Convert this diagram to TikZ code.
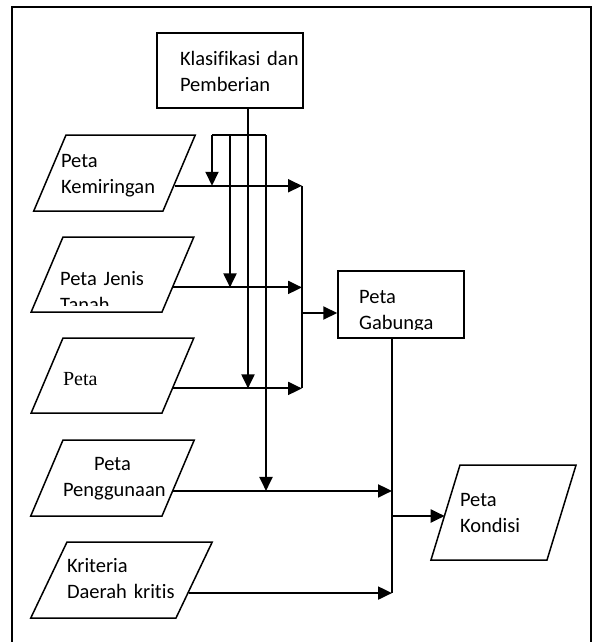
\documentclass[tikz,border=0pt]{standalone}
\usepackage{fontspec}
\setmainfont{Carlito}[Ligatures=NoCommon]
\newfontfamily\serifpeta{Liberation Serif}
\usetikzlibrary{arrows.meta,shapes.geometric}

\begin{document}
\begin{tikzpicture}[x=1pt,y=-1pt,>={Triangle[length=14pt,width=13pt]},
                    kotak/.style={rectangle,draw,line width=1.5pt,inner sep=0pt,align=left,font=\fontsize{20.5}{26}\selectfont},
                    peta/.style={trapezium,draw,line width=1.5pt,inner sep=0pt,align=left,
                                 trapezium left angle=67,trapezium right angle=113,text width=99pt,
                                 font=\fontsize{20.5}{26}\selectfont},
                    teks/.style={inner sep=0pt,align=left,font=\fontsize{20.5}{26}\selectfont},
                    panah/.style={->,line width=2pt},
                    garis/.style={-,line width=2pt}]

  \useasboundingbox (0,0) rectangle (597,642);
  \draw[line width=1.3pt] (12,7) rectangle (591,660);

  \node[kotak,minimum width=146pt,text width=100pt,text height=33pt,text depth=42pt] (1) at (230,70.5) {\mbox{Klasifikasi dan}\\Pemberian};
  \node[peta,text width=97pt,text height=32pt,text depth=44pt] (2) at (114.5,173) {\hspace*{-5pt}Peta\\\hspace*{-5pt}Kemiringan};
  \node[peta,text height=48pt,text depth=27pt] (3) at (112.5,274.5) {};
  \node[peta,text height=47pt,text depth=28pt,font=\serifpeta\fontsize{20}{24}\selectfont] (4) at (112.5,375.5) {Peta};
  \node[peta,align=center,text height=30pt,text depth=46pt] (5) at (112.5,478) {Peta\\Penggunaan};
  \node[peta,trapezium left angle=64.5,trapezium right angle=115.5,text width=109pt,text height=30pt,text depth=46pt]
        (6) at (121.5,580) {Kriteria\\\mbox{Daerah kritis}};
  \node[kotak,minimum width=126pt,minimum height=67pt] (7) at (401,304.5) {};
  \node[peta,trapezium left angle=73,trapezium right angle=107,text width=87pt,text height=41pt,text depth=54pt]
        (8) at (503.5,512.5) {Peta\\Kondisi};

  % teks yang terpotong
  \begin{scope}
    \clip (30,230) rectangle (200,305);
    \node[teks,text width=105pt,anchor=base west] (3t) at (60,285) {Peta Jenis\\Tanah};
  \end{scope}
  \begin{scope}
    \clip (340,273) rectangle (462,329);
    \node[teks,text width=84pt,anchor=base west] (7t) at (359,303) {Peta\\Gabunga};
  \end{scope}

  \coordinate (a) at (248,135);
  \coordinate (b1) at (212,135);
  \coordinate (b2) at (230,135);
  \coordinate (b4) at (266,135);
  \coordinate (c1) at (302,313);
  \coordinate (c2) at (392,516);

  \path[garis]
  (1.south -| a) edge (a)
  (b1) edge (b4)
  (c1 |- 2.-12) edge (c1 |- 4.-12)
  (7.south -| c2) edge (c2 |- 6.-11);

  \path[panah]
  (b1) edge (b1 |- 2.-12)
  (b2) edge (b2 |- 3.-12)
  (a) edge (a |- 4.-12)
  (b4) edge (b4 |- 5.-12)
  (2.-12) edge (c1 |- 2.-12)
  (3.-12) edge (c1 |- 3.-12)
  (4.-12) edge (c1 |- 4.-12)
  (c1) edge (c1 -| 7.west)
  (5.-12) edge (c2 |- 5.-12)
  (6.-11) edge (c2 |- 6.-11)
  (c2) edge (c2 -| 8.west);

\end{tikzpicture}
\end{document}
